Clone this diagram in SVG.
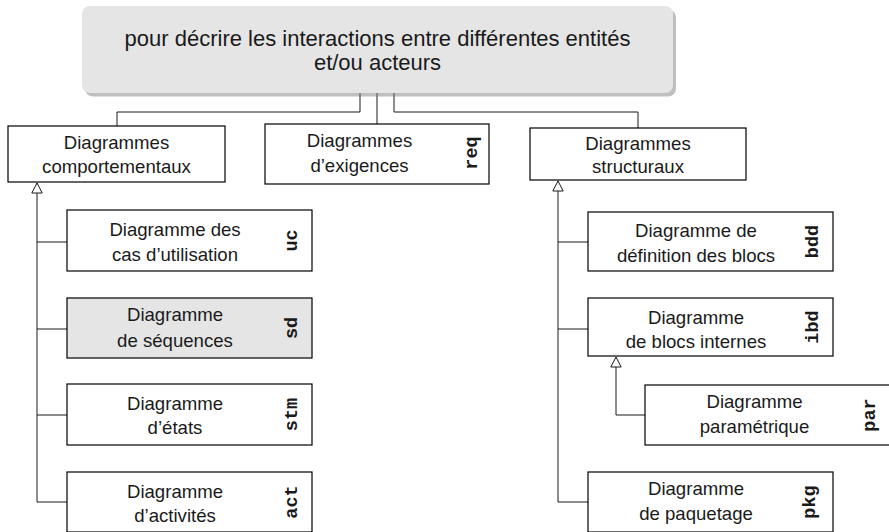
<svg xmlns="http://www.w3.org/2000/svg" width="889" height="532" viewBox="0 0 889 532">
<style>
.box{fill:#ffffff;stroke:#000000;stroke-width:1.2}
.gray{fill:#e5e5e5}
.t{font-family:"Liberation Sans",Arial,sans-serif;font-size:18.6px;fill:#1a1a1a;text-anchor:middle}
.big{font-size:22px}
.lab{font-family:"Liberation Mono","Courier New",monospace;font-weight:bold;font-size:18.5px;fill:#1a1a1a;text-anchor:middle}
.c{fill:none;stroke:#1a1a1a;stroke-width:1}
</style>
<defs>
<marker id="gen" viewBox="0 0 12 12" refX="11" refY="6" markerWidth="12" markerHeight="12" markerUnits="userSpaceOnUse" orient="auto">
<path d="M1,0.8 L11,6 L1,11.2 Z" fill="#ffffff" stroke="#1a1a1a" stroke-width="1"/>
</marker>
</defs>
<rect width="889" height="532" fill="#ffffff"/>
<g id="connectors">
<path class="c" d="M360,93 V112 H117 V126"/>
<path class="c" d="M377,93 V124"/>
<path class="c" d="M394,93 V112 H638 V128"/>
<path class="c" d="M37,502 V183" marker-end="url(#gen)"/>
<path class="c" d="M37,242 H67 M37,329 H67 M37,415 H67 M37,502 H67"/>
<path class="c" d="M558,502 V181" marker-end="url(#gen)"/>
<path class="c" d="M558,242 H588 M558,329 H588 M558,502 H588"/>
<path class="c" d="M645,415 H616 V357" marker-end="url(#gen)"/>
</g>
<g id="top">
<rect x="85" y="9.5" width="591" height="87" rx="8" fill="#808080" opacity="0.5"/>
<rect x="82" y="6" width="591" height="87" rx="8" class="gray"/>
<text class="t big" x="377.5" y="45.5">pour décrire les interactions entre différentes entités</text>
<text class="t big" x="377.5" y="70.3">et/ou acteurs</text>
</g>
<g id="comportementaux">
<rect class="box" x="8" y="126" width="217" height="56"/>
<text class="t" x="116.5" y="149">Diagrammes</text>
<text class="t" x="116.5" y="173">comportementaux</text>
</g>
<g id="exigences">
<rect class="box" x="265" y="124" width="224" height="60"/>
<text class="t" x="359.5" y="147">Diagrammes</text>
<text class="t" x="359.5" y="172">d’exigences</text>
<text class="lab" transform="translate(477,153) rotate(-90)">req</text>
</g>
<g id="structuraux">
<rect class="box" x="530" y="128" width="216" height="52"/>
<text class="t" x="638" y="150">Diagrammes</text>
<text class="t" x="638" y="173">structuraux</text>
</g>
<g id="uc">
<rect class="box" x="67" y="210" width="245" height="61"/>
<text class="t" x="175" y="236">Diagramme des</text>
<text class="t" x="175" y="261">cas d’utilisation</text>
<text class="lab" transform="translate(297,240.5) rotate(-90)">uc</text>
</g>
<g id="sd">
<rect class="box" x="67" y="298" width="245" height="60" style="fill:#e5e5e5"/>
<text class="t" x="175" y="321">Diagramme</text>
<text class="t" x="175" y="346.5">de séquences</text>
<text class="lab" transform="translate(297,328) rotate(-90)">sd</text>
</g>
<g id="stm">
<rect class="box" x="67" y="384" width="245" height="61"/>
<text class="t" x="175" y="409.5">Diagramme</text>
<text class="t" x="175" y="434">d’états</text>
<text class="lab" transform="translate(297,414.5) rotate(-90)">stm</text>
</g>
<g id="act">
<rect class="box" x="67" y="472" width="245" height="60"/>
<text class="t" x="175" y="497.5">Diagramme</text>
<text class="t" x="175" y="522">d’activités</text>
<text class="lab" transform="translate(297,502) rotate(-90)">act</text>
</g>
<g id="bdd">
<rect class="box" x="588" y="212" width="245" height="59"/>
<text class="t" x="696" y="237">Diagramme de</text>
<text class="t" x="696" y="262">définition des blocs</text>
<text class="lab" transform="translate(818,241.5) rotate(-90)">bdd</text>
</g>
<g id="ibd">
<rect class="box" x="588" y="298" width="245" height="58"/>
<text class="t" x="696" y="324">Diagramme</text>
<text class="t" x="696" y="348">de blocs internes</text>
<text class="lab" transform="translate(818,327) rotate(-90)">ibd</text>
</g>
<g id="par">
<rect class="box" x="645" y="385" width="245" height="60"/>
<text class="t" x="754.5" y="408">Diagramme</text>
<text class="t" x="754.5" y="433">paramétrique</text>
<text class="lab" transform="translate(875,415) rotate(-90)">par</text>
</g>
<g id="pkg">
<rect class="box" x="588" y="472" width="245" height="60"/>
<text class="t" x="696" y="495">Diagramme</text>
<text class="t" x="696" y="520">de paquetage</text>
<text class="lab" transform="translate(815,502) rotate(-90)">pkg</text>
</g>
</svg>
